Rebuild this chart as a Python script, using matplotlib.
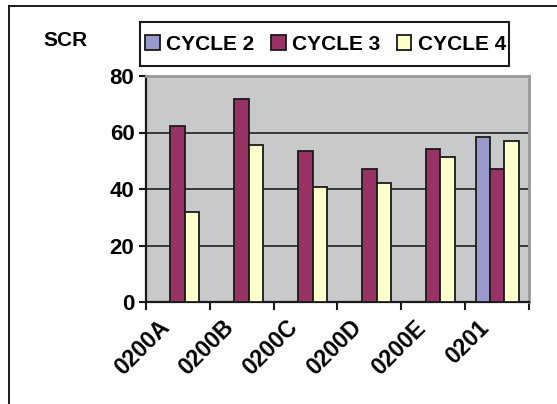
import matplotlib
matplotlib.use('Agg')
import matplotlib.pyplot as plt
import numpy as np
from matplotlib.patches import Patch, Rectangle
from matplotlib.lines import Line2D

plt.rcParams['font.family'] = ['Liberation Sans', 'DejaVu Sans']
plt.rcParams['font.weight'] = 'bold'

# data
categories = ['0200A', '0200B', '0200C', '0200D', '0200E', '0201']
series_names = ['CYCLE 2', 'CYCLE 3', 'CYCLE 4']
cycle2 = [np.nan, np.nan, np.nan, np.nan, np.nan, 58.3]
cycle3 = [62.4, 71.8, 53.5, 47.0, 54.1, 47.0]
cycle4 = [31.8, 55.6, 40.8, 42.2, 51.3, 56.9]
y_ticks = [0, 20, 40, 60, 80]

colors = ['#9999CC', '#993366', '#FFFFCC']
edge = '#1a1a1a'
W, H = 557, 404

fig = plt.figure(figsize=(5.57, 4.04), dpi=100)
fig.patch.set_facecolor('white')

# outer chart frame (top and left edges visible)
fig.add_artist(Line2D([9/W, 1.01], [1 - 6/H, 1 - 6/H], color=edge, lw=1.4, transform=fig.transFigure))
fig.add_artist(Line2D([9/W, 9/W], [1 - 6/H, -0.01], color=edge, lw=1.4, transform=fig.transFigure))

ax = fig.add_axes([145.6/W, 1 - 302/H, (529.3 - 145.6)/W, (302 - 76)/H])
ax.set_facecolor('#C8C9CB')

x = np.arange(len(categories))
w = 1 / 4.5
for k, vals in enumerate([cycle2, cycle3, cycle4]):
    ax.bar(x + (k - 1) * w, vals, width=w, color=colors[k], edgecolor=edge, linewidth=1.3, zorder=3)

ax.set_xlim(-0.5, len(categories) - 0.5)
ax.set_ylim(0, 80)
ax.set_yticks(y_ticks)
ax.set_yticklabels([str(v) for v in y_ticks], fontsize=16, fontweight='bold')
ax.yaxis.grid(True, color='#222222', lw=1.2, zorder=1)
ax.set_axisbelow(True)

# category labels offset to the left, boundary tick marks as minor ticks
ax.set_xticks(x - 0.18)
ax.set_xticklabels(categories, fontsize=16.5, fontweight='bold')
ax.tick_params(axis='x', which='major', length=0, pad=16)
ax.set_xticks(np.arange(len(categories) + 1) - 0.5, minor=True)
ax.tick_params(axis='x', which='minor', length=6, width=1.5, color=edge, direction='out')
ax.tick_params(axis='y', length=5, width=1.5, color=edge, pad=3)
plt.setp(ax.get_xticklabels(), rotation=45, ha='right', va='center', rotation_mode='anchor')

for s in ['left', 'bottom']:
    ax.spines[s].set_color(edge)
    ax.spines[s].set_linewidth(1.6)
for s in ['top', 'right']:
    ax.spines[s].set_color('#999999')
    ax.spines[s].set_linewidth(2)

# legend box drawn separately so it can be taller than the text row
fig.add_artist(Rectangle((140/W, 1 - 66/H), (509 - 140)/W, 44/H, transform=fig.transFigure,
                         facecolor='white', edgecolor=edge, lw=1.5, zorder=2))
handles = [Patch(facecolor=colors[k], edgecolor=edge, linewidth=1.3) for k in range(3)]
leg = fig.legend(handles, series_names, loc='center', bbox_to_anchor=(325.5/W, 1 - 44/H),
                 ncol=3, fontsize=15, frameon=False,
                 handlelength=0.7, handleheight=0.7, handletextpad=0.3,
                 columnspacing=0.8, borderpad=0.2, borderaxespad=0)
leg.set_zorder(3)
for t in leg.get_texts():
    t.set_fontweight('bold')

fig.text(65.4/W, 1 - 40/H, 'SCR', fontsize=15, fontweight='bold', ha='center', va='center')

fig.savefig('out.png', dpi=100)
